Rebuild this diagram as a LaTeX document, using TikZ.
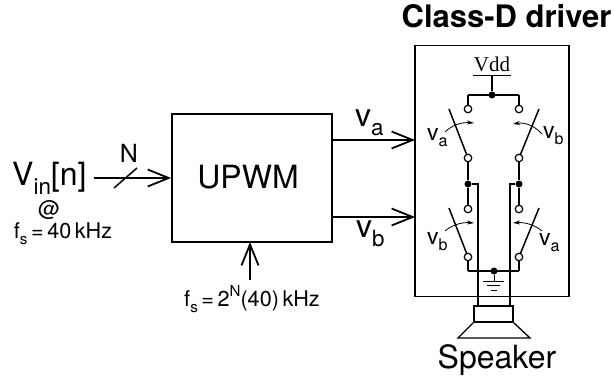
\documentclass[tikz,border=0pt]{standalone}
\usepackage{fontspec}
\setmainfont{TeX Gyre Heros}
\newfontfamily\vddfont{Liberation Serif}
\usetikzlibrary{arrows.meta}
\newcommand{\lowtxt}[1]{\raisebox{-.3em}{\scalebox{.7}{#1}}}
\newcommand{\hightxt}[1]{\raisebox{.42em}{\scalebox{.7}{#1}}}
\tikzset{
	bigtxt/.style={font=\fontsize{32}{34}\selectfont, inner sep=0pt},
	midtxt/.style={font=\fontsize{21.6}{24}\selectfont, inner sep=0pt},
	swtxt/.style={font=\fontsize{23}{25}\selectfont, inner sep=0pt},
	boxline/.style={line width=1.8pt},
	wire/.style={line width=1.5pt},
	busline/.style={line width=2.2pt},
	openarrow/.style={line width=1.8pt, -{Straight Barb[length=21pt,width=17pt,line width=1.8pt]}},
	sw/.style={circle, draw, fill=white, line width=1.2pt, minimum size=7.5pt, inner sep=0pt},
	jn/.style={circle, fill=black, minimum size=7pt, inner sep=0pt},
	swcurve/.style={line width=.8pt, -{Stealth[length=7pt,width=4pt]}}
}
\begin{document}
\begin{tikzpicture}[x=1pt,y=-1pt]
	\useasboundingbox (0,0) rectangle (614,378);
	
	% Blocks
	\node[boxline, draw, minimum width=160pt, minimum height=128pt, inner sep=0pt] (upwm) at (252,178) {};
	\node[boxline, draw, minimum width=154pt, minimum height=251pt, inner sep=0pt] (driver) at (492,171) {};
	\node[bigtxt, anchor=base] (upwmtxt) at (248,188) {UPWM};
	\node[font=\fontsize{31}{33}\bfseries, inner sep=0pt, anchor=base] (title) at (506.5,27) {Class-D driver};
	
	% Input side
	\node[bigtxt, anchor=base west] (vin) at (12,185) {V\lowtxt{in}[n]};
	\coordinate (vinend) at (94,178);
	\draw[openarrow] (vinend) -- (upwm.west);
	\coordinate (slasha) at (114,188);
	\coordinate (slashb) at (137,168);
	\draw[wire] (slasha) -- (slashb);
	\node[font=\fontsize{25}{27}\selectfont, inner sep=0pt, anchor=base] (nbits) at (129,162) {N};
	\node[midtxt, anchor=base] (at) at (49,216) {@};
	\node[midtxt, anchor=base] (fsin) at (63,238) {f\lowtxt{s}\,=\,40\,kHz};
	
	% Clock
	\coordinate (clkend) at (250,280);
	\coordinate (clktip) at (250,242);
	\draw[openarrow] (clkend) -- (clktip);
	\node[midtxt, anchor=base] (fsclk) at (252,306) {f\lowtxt{s}\,=\,2\hightxt{N}(40)\,kHz};
	
	% Outputs
	\coordinate (vaout) at (332,140);
	\coordinate (vaend) at (415,140);
	\coordinate (vbout) at (332,217);
	\coordinate (vbend) at (415,217);
	\draw[openarrow] (vaout) -- (vaend);
	\draw[openarrow] (vbout) -- (vbend);
	\node[bigtxt, anchor=base west] (valbl) at (355,126) {v\lowtxt{a}};
	\node[bigtxt, anchor=base west] (vblbl) at (356,237) {v\lowtxt{b}};
	
	% Supply
	\node[font=\vddfont\fontsize{21}{23}\selectfont, inner sep=0pt, anchor=base] (vdd) at (492,71) {Vdd};
	\coordinate (vddl) at (473,75.5);
	\coordinate (vddr) at (511,75.5);
	\coordinate (vddm) at (492,75.5);
	\draw[wire] (vddl) -- (vddr);
	\node[jn] (top) at (492,95) {};
	\draw[wire] (vddm) -- (top);
	
	% Switch terminals
	\node[jn] (midl) at (468,184) {};
	\node[jn] (midr) at (519,184) {};
	\node[jn] (bot) at (494,271) {};
	\coordinate (botl) at (468,271);
	\coordinate (botr) at (519,271);
	\coordinate (topl) at (468,95);
	\coordinate (topr) at (519,95);
	\draw[wire] (topl) -- (topr);
	\draw[wire] (botl) -- (botr);
	\draw[wire] (topl) -- (468,109);
	\draw[wire] (topr) -- (519,109);
	\draw[wire] (468,158) -- (midl);
	\draw[wire] (519,158) -- (midr);
	\draw[wire] (midl) -- (468,209);
	\draw[wire] (midr) -- (519,209);
	\draw[wire] (468,257) -- (botl);
	\draw[wire] (519,257) -- (botr);
	\draw[wire] (449,109) -- (468,158);
	\draw[wire] (539,109) -- (519,158);
	\draw[wire] (449,208) -- (468,257);
	\draw[wire] (539,208) -- (519,257);
	\foreach \nm/\xx/\yy in {ula/468/109, ulb/468/158, ura/519/109, urb/519/158, lla/468/209, llb/468/257, lra/519/209, lrb/519/257}
		\node[sw] (\nm) at (\xx,\yy) {};
	
	% Switch controls
	\draw[swcurve] (445,132) .. controls (452,125) and (462,122) .. (474,123);
	\draw[swcurve] (542,134) .. controls (535,126) and (525,122) .. (513,124);
	\draw[swcurve] (445,231) .. controls (452,225) and (462,222) .. (474,223);
	\draw[swcurve] (542,231) .. controls (535,225) and (525,222) .. (513,223);
	\node[swtxt, anchor=base west] (swa) at (427,140) {v\lowtxt{a}};
	\node[swtxt, anchor=base west] (swb) at (543,138) {v\lowtxt{b}};
	\node[swtxt, anchor=base west] (swc) at (427,244) {v\lowtxt{b}};
	\node[swtxt, anchor=base west] (swd) at (539,245) {v\lowtxt{a}};
	
	% Ground
	\coordinate (gndtop) at (494,281);
	\draw[line width=1pt] (bot) -- (gndtop);
	\draw[line width=1pt] (483,281) -- (504,281);
	\draw[line width=1pt] (487,285.5) -- (500,285.5);
	\draw[line width=1pt] (491,290) -- (497,290);
	
	% Speaker
	\node[boxline, draw, minimum width=39pt, minimum height=16pt, inner sep=0pt] (cone) at (493.5,314) {};
	\draw[line width=1.3pt] (cone.south west) -- (458,338) -- (530,338) -- (cone.south east);
	\draw[busline] (midl) -- (478,184) -- (478,306);
	\draw[busline] (midr) -- (510,184) -- (510,306);
	\node[bigtxt, anchor=base] (spk) at (497,368) {Speaker};
\end{tikzpicture}
\end{document}
